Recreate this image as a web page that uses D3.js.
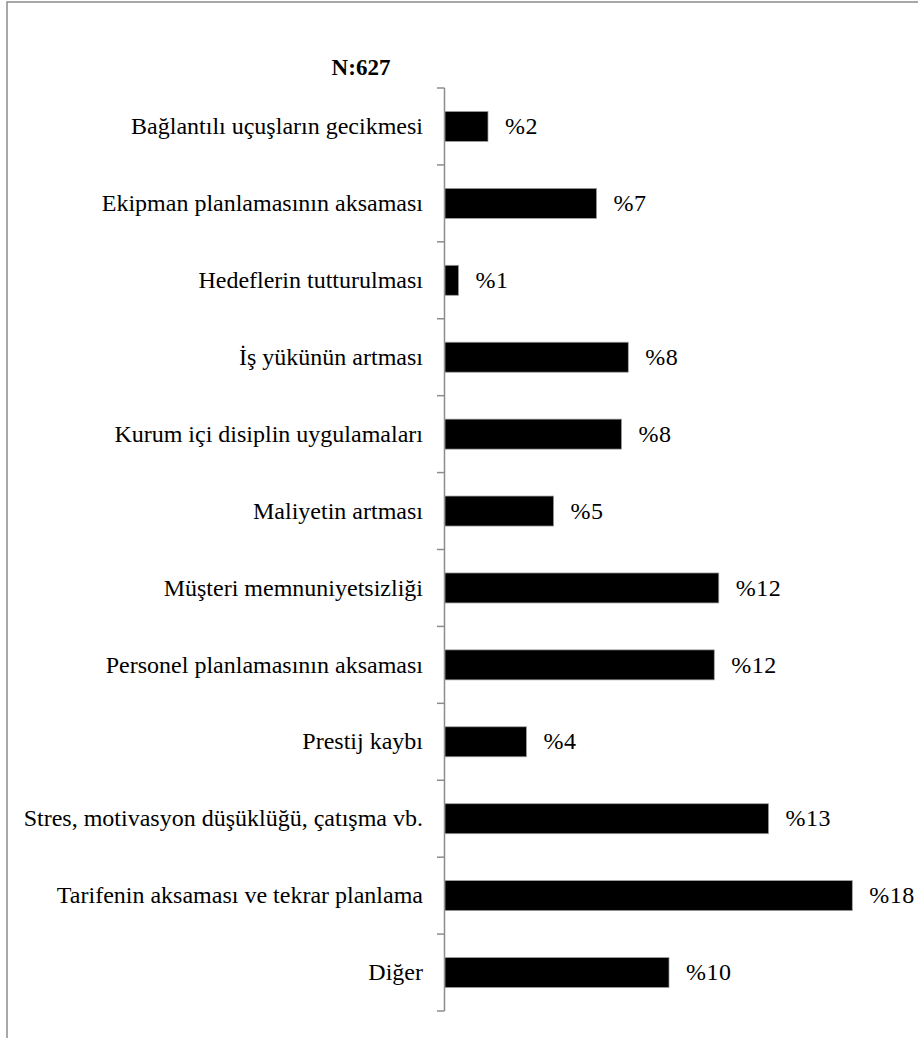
<!DOCTYPE html>
<html>
<head>
<meta charset="utf-8">
<script src="https://cdn.jsdelivr.net/npm/d3@7"></script>
<style>
  body { margin: 0; background: #fff; }
</style>
</head>
<body>
<div id="vis"></div>
<script>
/*************************** data ************************************/
var categories = [
    "Bağlantılı uçuşların gecikmesi",
    "Ekipman planlamasının aksaması",
    "Hedeflerin tutturulması",
    "İş yükünün artması",
    "Kurum içi disiplin uygulamaları",
    "Maliyetin artması",
    "Müşteri memnuniyetsizliği",
    "Personel planlamasının aksaması",
    "Prestij kaybı",
    "Stres, motivasyon düşüklüğü, çatışma vb.",
    "Tarifenin aksaması ve tekrar planlama",
    "Diğer"
];
// bar lengths
var values = [1.9, 6.7, 0.6, 8.1, 7.8, 4.8, 12.1, 11.9, 3.6, 14.3, 18.0, 9.9];
// labels as printed on the chart
var value_labels = ["%2", "%7", "%1", "%8", "%8", "%5", "%12", "%12", "%4", "%13", "%18", "%10"];
var title = "N:627";

/*************************** chart ************************************/
var W = 918, H = 1038;
var FONT = "'Liberation Serif', 'Times New Roman', serif";
var FS = 24;

var svg = d3.select("div#vis").append("svg")
    .attr("width", W)
    .attr("height", H)
    .attr("font-family", FONT);

// outer frame (cut off at right and bottom)
svg.append("rect")
    .attr("x", 7)
    .attr("y", 2)
    .attr("width", W + 10)
    .attr("height", H + 10)
    .attr("fill", "none")
    .attr("stroke", "#8c8c8c")
    .attr("stroke-width", 1.5);

var x0 = 445, y_top = 88, y_bottom = 1011;

var x = d3.scaleLinear()
    .domain([0, 18])
    .range([x0, x0 + 407.3]);

var y = d3.scaleBand()
    .domain(categories)
    .range([y_top, y_bottom])
    .paddingInner(0.61)
    .paddingOuter(0.305);

// axis line + ticks at band boundaries
var g = svg.append("g");
g.append("line")
    .attr("x1", x0 - 0.5).attr("x2", x0 - 0.5)
    .attr("y1", y_top).attr("y2", y_bottom)
    .attr("stroke", "#8c8c8c").attr("stroke-width", 1.5);

var step = (y_bottom - y_top) / categories.length;
g.selectAll("line.tick")
    .data(d3.range(categories.length + 1))
  .enter().append("line")
    .attr("class", "tick")
    .attr("x1", x0 - 8).attr("x2", x0 - 0.5)
    .attr("y1", function(i) { return y_top + i * step; })
    .attr("y2", function(i) { return y_top + i * step; })
    .attr("stroke", "#8c8c8c").attr("stroke-width", 1.5);

// category labels
g.selectAll("text.cat")
    .data(categories)
  .enter().append("text")
    .attr("class", "cat")
    .attr("x", 423)
    .attr("y", function(d) { return y(d) + y.bandwidth() / 2; })
    .attr("dy", "0.32em")
    .attr("text-anchor", "end")
    .attr("font-size", FS)
    .text(function(d) { return d; });

// bars
svg.selectAll("rect.bar")
    .data(values)
  .enter().append("rect")
    .attr("class", "bar")
    .attr("x", x(0))
    .attr("y", function(d, i) { return y(categories[i]); })
    .attr("width", function(d) { return x(d) - x(0); })
    .attr("height", y.bandwidth())
    .attr("fill", "#000")
    .attr("stroke", "#a0a0a0")
    .attr("stroke-width", 0.75);

// value labels
svg.selectAll("text.val")
    .data(values)
  .enter().append("text")
    .attr("class", "val")
    .attr("x", function(d) { return x(d) + 17; })
    .attr("y", function(d, i) { return y(categories[i]) + y.bandwidth() / 2; })
    .attr("dy", "0.32em")
    .attr("font-size", FS)
    .attr("letter-spacing", 0.5)
    .text(function(d, i) { return value_labels[i]; });

// title
svg.append("text")
    .attr("x", 361)
    .attr("y", 75)
    .attr("text-anchor", "middle")
    .attr("font-size", 23)
    .attr("font-weight", "bold")
    .text(title);
</script>
</body>
</html>
